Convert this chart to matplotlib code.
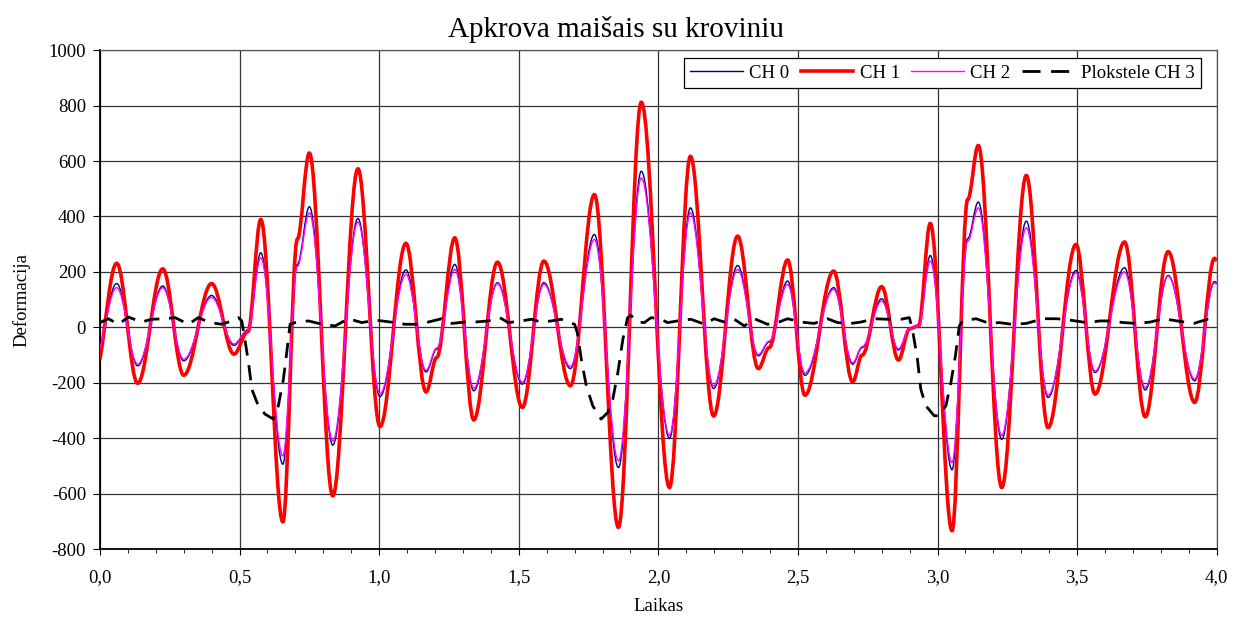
import matplotlib
matplotlib.use("Agg")
import matplotlib.pyplot as plt
from matplotlib.path import Path
from matplotlib.patches import PathPatch
from matplotlib.lines import Line2D
from matplotlib.ticker import MultipleLocator, FuncFormatter

plt.rcParams['font.family'] = ['Liberation Serif', 'DejaVu Serif']

# extrema / shoulder times shared by CH 0, CH 1, CH 2
t_ext = [0.000, 0.060, 0.135, 0.225, 0.300, 0.400, 0.480, 0.530, 0.576, 0.655,
         0.707, 0.750, 0.834, 0.924, 1.003, 1.096, 1.168, 1.206, 1.271, 1.339,
         1.424, 1.513, 1.590, 1.685, 1.771, 1.857, 1.939, 2.040, 2.115, 2.198,
         2.284, 2.358, 2.397, 2.463, 2.525, 2.628, 2.696, 2.730, 2.800, 2.860,
         2.900, 2.932, 2.974, 3.052, 3.108, 3.146, 3.230, 3.318, 3.396, 3.496,
         3.564, 3.670, 3.744, 3.826, 3.921, 3.992, 4.000]
ch1 = [-115, 231, -202, 211, -173, 158, -97, -15, 389, -702,
       318, 629, -608, 572, -358, 303, -233, -109, 323, -334,
       235, -289, 239, -211, 479, -722, 812, -578, 617, -320,
       329, -149, -73, 243, -245, 203, -197, -100, 147, -118,
       -5, 5, 375, -734, 461, 656, -578, 548, -362, 299,
       -241, 308, -323, 273, -271, 249, 240]
ch0 = [-85, 158, -139, 149, -121, 115, -65, -10, 269, -494,
       227, 435, -425, 393, -250, 207, -161, -79, 227, -229,
       161, -205, 161, -149, 335, -506, 563, -401, 431, -221,
       223, -103, -53, 167, -173, 143, -133, -73, 103, -82,
       -5, 5, 259, -514, 320, 452, -404, 383, -253, 205,
       -163, 215, -226, 187, -193, 165, 160]
ch2 = [-75, 143, -133, 143, -115, 108, -60, -8, 251, -464,
       220, 413, -410, 380, -240, 191, -155, -75, 209, -220,
       158, -198, 155, -142, 317, -482, 539, -390, 413, -212,
       209, -98, -50, 155, -165, 137, -128, -70, 95, -78,
       -5, 5, 239, -488, 311, 431, -390, 359, -245, 197,
       -158, 200, -218, 185, -187, 160, 155]

# plokstele CH 3
t3 = [0.000, 0.030, 0.066, 0.102, 0.149, 0.185, 0.233, 0.269, 0.317, 0.352,
      0.394, 0.436, 0.472, 0.496, 0.508, 0.520, 0.532, 0.544, 0.567, 0.591,
      0.621, 0.639, 0.657, 0.669, 0.681, 0.699, 0.747, 0.795, 0.842, 0.890,
      0.938, 0.986, 1.057, 1.093, 1.140, 1.176, 1.224, 1.260, 1.307, 1.343,
      1.390, 1.432, 1.462, 1.510, 1.545, 1.581, 1.617, 1.652, 1.682, 1.700,
      1.710, 1.724, 1.742, 1.765, 1.795, 1.819, 1.837, 1.855, 1.873, 1.890,
      1.902, 1.926, 1.950, 1.974, 2.010, 2.033, 2.069, 2.117, 2.165, 2.200,
      2.236, 2.272, 2.308, 2.344, 2.391, 2.427, 2.463, 2.511, 2.558, 2.606,
      2.642, 2.690, 2.726, 2.773, 2.821, 2.869, 2.899, 2.910, 2.928, 2.940,
      2.958, 2.988, 3.006, 3.030, 3.048, 3.064, 3.078, 3.090, 3.138, 3.186,
      3.222, 3.264, 3.318, 3.378, 3.426, 3.474, 3.534, 3.582, 3.618, 3.666,
      3.714, 3.762, 3.810, 3.858, 3.918, 3.966, 4.000]
ch3 = [17, 31, 11, 37, 19, 29, 31, 35, 11, 35,
       17, 11, 23, 35, 23, -50, -127, -223, -283, -313,
       -331, -283, -187, -91, 11, 17, 23, 11, 5, 31,
       17, 26, 17, 11, 11, 19, 31, 14, 19, 19,
       23, 35, 17, 23, 29, 19, 23, 29, 17, 11,
       -20, -115, -211, -283, -331, -307, -259, -163, -43, 35,
       43, 19, 17, 35, 29, 17, 23, 29, 11, 31,
       19, 29, 5, 31, 11, 17, 31, 19, 14, 31,
       17, 14, 19, 31, 29, 29, 35, -7, -115, -223,
       -283, -319, -319, -283, -199, -103, 5, 23, 31, 14,
       17, 11, 14, 31, 31, 26, 17, 23, 23, 17,
       14, 19, 31, 23, 14, 29, 31]


def smooth_path(t, v, k=0.3634):
    # Excel-like smoothed line: cubic Bezier, flat tangents at the read extrema
    verts = [(t[0], v[0])]
    codes = [Path.MOVETO]
    n = len(t)
    for i in range(n - 1):
        dt = t[i + 1] - t[i]
        dv = v[i + 1] - v[i]
        c1 = (t[i] + dt * k, v[i] + (dv * k if i == 0 else 0))
        c2 = (t[i + 1] - dt * k, v[i + 1] - (dv * k if i + 1 == n - 1 else 0))
        verts += [c1, c2, (t[i + 1], v[i + 1])]
        codes += [Path.CURVE4] * 3
    return Path(verts, codes)


fig = plt.figure(figsize=(12.34, 6.19), dpi=100)
ax = fig.add_axes([0.081, 0.113, 0.905, 0.806])

ax.add_patch(PathPatch(smooth_path(t_ext, ch0), fill=False, edgecolor='#000080',
                       lw=1.0, zorder=3))
ax.add_patch(PathPatch(smooth_path(t_ext, ch1), fill=False, edgecolor='#ff0000',
                       lw=2.6, zorder=4, joinstyle='round'))
ax.add_patch(PathPatch(smooth_path(t_ext, ch2), fill=False, edgecolor='#ff00ff',
                       lw=1.0, zorder=5))
ax.plot(t3, ch3, color='black', lw=2.0, dashes=(5.5, 3.5), zorder=6)

ax.set_xlim(0, 4)
ax.set_ylim(-800, 1000)
ax.xaxis.set_major_locator(MultipleLocator(0.5))
ax.xaxis.set_minor_locator(MultipleLocator(0.1))
ax.yaxis.set_major_locator(MultipleLocator(200))
ax.xaxis.set_major_formatter(FuncFormatter(lambda v, p: f"{v:.1f}".replace('.', ',')))
ax.yaxis.set_major_formatter(FuncFormatter(lambda v, p: str(int(round(v)))))
ax.grid(True, which='major', color='#333333', lw=0.9)
ax.tick_params(axis='both', which='both', direction='out', labelsize=13.5, color='black')
ax.tick_params(axis='x', which='major', length=4.5, pad=10)
ax.tick_params(axis='x', which='minor', length=3)
ax.tick_params(axis='y', which='major', length=5, pad=5)
for s in ['left', 'bottom']:
    ax.spines[s].set_linewidth(1.3)
for s in ['top', 'right']:
    ax.spines[s].set_color('#555555')
    ax.spines[s].set_linewidth(0.9)

fig.text(0.499, 1 - 37 / 619, "Apkrova maišais su kroviniu", fontsize=21,
         ha='center', va='baseline')
ax.set_xlabel("Laikas", fontsize=13.5)
ax.xaxis.set_label_coords(0.5, -0.098)
ax.set_ylabel("Deformacija", fontsize=13.5)
ax.yaxis.set_label_coords(-0.062, 0.5)

handles = [Line2D([], [], color='#000080', lw=1.0),
           Line2D([], [], color='#ff0000', lw=2.6),
           Line2D([], [], color='#ff00ff', lw=1.0),
           Line2D([], [], color='black', lw=2.0, dashes=(6.5, 3.8))]
leg = ax.legend(handles, ["CH 0", "CH 1", "CH 2", "Plokstele CH 3"], ncol=4,
                loc='upper right', bbox_to_anchor=(0.986, 0.984), borderaxespad=0,
                fontsize=13.5, handlelength=2.8, handletextpad=0.35, columnspacing=0.6,
                fancybox=False, framealpha=1, edgecolor='black', borderpad=0.35)
leg.get_frame().set_linewidth(0.9)
leg.set_zorder(10)

fig.savefig("out.png", dpi=100)
